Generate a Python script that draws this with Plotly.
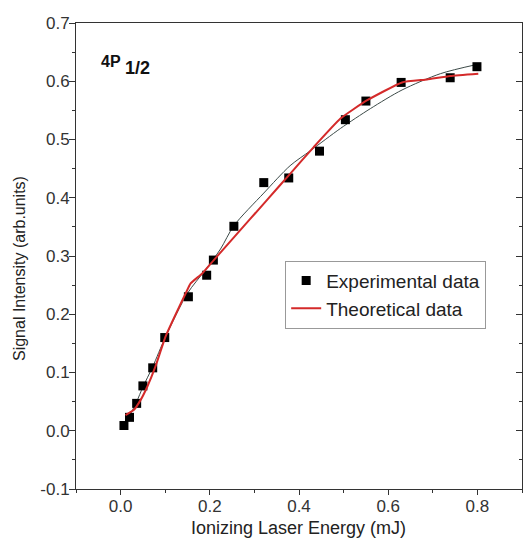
import plotly.graph_objects as go

# Experimental data (squares)
exp_x = [0.0075, 0.020, 0.036, 0.050, 0.072, 0.099, 0.152, 0.193, 0.208, 0.254,
         0.321, 0.377, 0.446, 0.504, 0.550, 0.629, 0.739, 0.799]
exp_y = [0.009, 0.023, 0.047, 0.077, 0.108, 0.160, 0.230, 0.267, 0.293, 0.351,
         0.426, 0.434, 0.480, 0.534, 0.566, 0.598, 0.606, 0.625]

# Theoretical data (red curve)
theo_x = [0.011, 0.030, 0.045, 0.060, 0.078, 0.101, 0.146, 0.157, 0.183, 0.209,
          0.254, 0.328, 0.381, 0.433, 0.493, 0.552, 0.631, 0.687, 0.739, 0.802]
theo_y = [0.027, 0.036, 0.053, 0.076, 0.110, 0.162, 0.236, 0.253, 0.270, 0.293,
          0.332, 0.396, 0.442, 0.487, 0.536, 0.567, 0.598, 0.603, 0.609, 0.613]

# Fit curve (thin dark line)
fit_x = [0.008, 0.020, 0.036, 0.050, 0.072, 0.100, 0.150, 0.190, 0.224, 0.254,
         0.321, 0.380, 0.426, 0.493, 0.560, 0.631, 0.717, 0.800]
fit_y = [0.005, 0.025, 0.050, 0.075, 0.110, 0.160, 0.236, 0.276, 0.312, 0.352,
         0.408, 0.455, 0.481, 0.519, 0.553, 0.585, 0.613, 0.629]

x_ticks = [0.0, 0.2, 0.4, 0.6, 0.8]
y_ticks = [-0.1, 0.0, 0.1, 0.2, 0.3, 0.4, 0.5, 0.6, 0.7]

x_title = "Ionizing Laser Energy (mJ)"
y_title = "Signal Intensity (arb.units)"

FONT = "Arial, 'Liberation Sans', sans-serif"
AX = "#333333"

fig = go.Figure()
fig.add_trace(go.Scatter(x=fit_x, y=fit_y, mode="lines", showlegend=False,
                         line=dict(color="#3c4a48", width=1, shape="spline", smoothing=0.8)))
fig.add_trace(go.Scatter(x=exp_x, y=exp_y, mode="markers", name="Experimental data",
                         marker=dict(symbol="square", size=9, color="black")))
fig.add_trace(go.Scatter(x=theo_x, y=theo_y, mode="lines", name="Theoretical data",
                         line=dict(color="#d42a2a", width=2, shape="spline", smoothing=0.4)))
# invisible trace for right axis
fig.add_trace(go.Scatter(x=[0], y=[0], yaxis="y2", mode="markers", showlegend=False,
                         marker=dict(opacity=0), hoverinfo="skip"))

fig.update_layout(
    width=524, height=539,
    margin=dict(l=76, r=2, t=23, b=50),
    paper_bgcolor="white", plot_bgcolor="white",
    font=dict(family=FONT, color="#222222"),
    showlegend=True,
    legend=dict(x=0.469, y=0.49, xanchor="left", yanchor="top",
                bordercolor="#999999", borderwidth=1, bgcolor="white",
                font=dict(size=19, family=FONT, color="#222222"),
                tracegroupgap=0, itemwidth=30),
    xaxis=dict(range=[-0.1, 0.9], tickvals=x_ticks, ticktext=[f"{v:.1f}" for v in x_ticks],
               ticks="outside", ticklen=5, tickwidth=1, tickcolor=AX,
               minor=dict(dtick=0.1, tick0=0.1, ticks="outside", ticklen=3, tickcolor=AX),
               showline=True, linecolor=AX, linewidth=1, mirror=True,
               showgrid=False, zeroline=False, automargin=False,
               ticklabelstandoff=-3,
               tickfont=dict(size=17, color="#333333")),
    yaxis=dict(range=[-0.1, 0.7], tickvals=y_ticks, ticktext=[f"{v:.1f}" for v in y_ticks],
               ticks="outside", ticklen=6, tickwidth=1, tickcolor=AX,
               minor=dict(dtick=0.05, tick0=0.05, ticks="outside", ticklen=3, tickcolor=AX),
               showline=True, linecolor=AX, linewidth=1,
               showgrid=False, zeroline=False, automargin=False,
               ticklabelstandoff=-4,
               tickfont=dict(size=17, color="#333333")),
    yaxis2=dict(range=[-0.1, 0.7], overlaying="y", side="right", tickvals=y_ticks,
                showticklabels=False, ticks="inside", ticklen=6, tickwidth=1, tickcolor=AX,
                minor=dict(dtick=0.05, tick0=0.05, ticks="inside", ticklen=3, tickcolor=AX),
                showline=True, linecolor=AX, linewidth=1, automargin=False,
                showgrid=False, zeroline=False),
    annotations=[
        dict(text="<b>4P</b>", x=0.052, y=0.918, xref="paper", yref="paper",
             xanchor="left", yanchor="middle", showarrow=False,
             font=dict(size=16, family=FONT, color="#111111")),
        dict(text="<b>1/2</b>", x=0.106, y=0.904, xref="paper", yref="paper",
             xanchor="left", yanchor="middle", showarrow=False,
             font=dict(size=18, family=FONT, color="#111111")),
        dict(text=x_title, x=0.499, y=-0.1073, xref="paper", yref="paper",
             xanchor="center", yanchor="bottom", showarrow=False, borderpad=0,
             font=dict(size=18, family=FONT, color="#222222")),
        dict(text=y_title, x=-0.128, y=0.474, xref="paper", yref="paper",
             xanchor="center", yanchor="middle", showarrow=False, textangle=-90,
             font=dict(size=16, family=FONT, color="#222222")),
    ],
)

fig.write_html("out.html", config={"displayModeBar": False},
               post_script="document.body.style.margin='0';document.body.style.overflow='hidden';")
